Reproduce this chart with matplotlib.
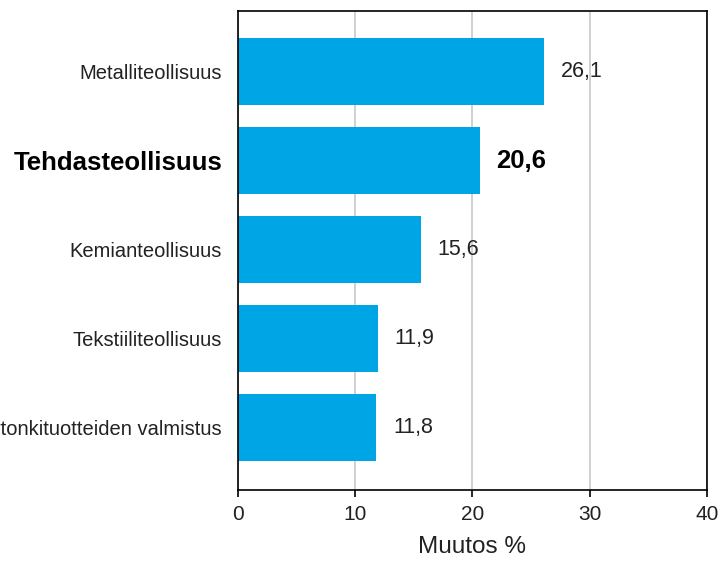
import matplotlib.pyplot as plt

plt.rcParams["font.family"] = ["Liberation Sans", "DejaVu Sans"]

categories = [
    "Metalliteollisuus",
    "Tehdasteollisuus",
    "Kemianteollisuus",
    "Tekstiiliteollisuus",
    "Paperin, paperi- ja kartonkituotteiden valmistus",
]
values = [26.1, 20.6, 15.6, 11.9, 11.8]
value_labels = ["26,1", "20,6", "15,6", "11,9", "11,8"]
bold_index = 1


def main():
    fig = plt.figure(figsize=(7.19, 5.61), dpi=100)
    ax = fig.add_axes([0.331, 0.1266, 0.6523, 0.8538])

    pos = list(range(len(categories)))
    ax.barh(pos, values, height=0.75, color="#00A5E6", zorder=2)

    ax.set_xlim(0, 40)
    ax.set_ylim(4.70, -0.68)
    ax.set_xticks([0, 10, 20, 30, 40])
    ax.xaxis.grid(True, color="#c8c8c8", linewidth=1.2, zorder=0)
    ax.set_axisbelow(True)

    ax.set_yticks(pos)
    ax.set_yticklabels(categories)
    ax.tick_params(axis="y", length=0, pad=11.5, labelsize=14.5, labelcolor="#222222")
    ax.tick_params(axis="x", length=5, width=1.2, labelsize=15, pad=6,
                   labelcolor="#222222")
    for i, lab in enumerate(ax.get_yticklabels()):
        if i == bold_index:
            lab.set_fontweight("bold")
            lab.set_fontsize(18.5)
            lab.set_color("black")

    for i, (v, txt) in enumerate(zip(values, value_labels)):
        bold = i == bold_index
        ax.annotate(txt, xy=(v, i), xytext=(12, 0), textcoords="offset points",
                    va="center", ha="left",
                    fontsize=18.5 if bold else 15.5,
                    fontweight="bold" if bold else "normal",
                    color="black" if bold else "#222222")

    for sp in ax.spines.values():
        sp.set_color("black")
        sp.set_linewidth(1.2)

    ax.set_xlabel("Muutos %", fontsize=17.5, labelpad=8.5, color="#222222")

    fig.savefig("out.png", dpi=100)


if __name__ == "__main__":
    main()
